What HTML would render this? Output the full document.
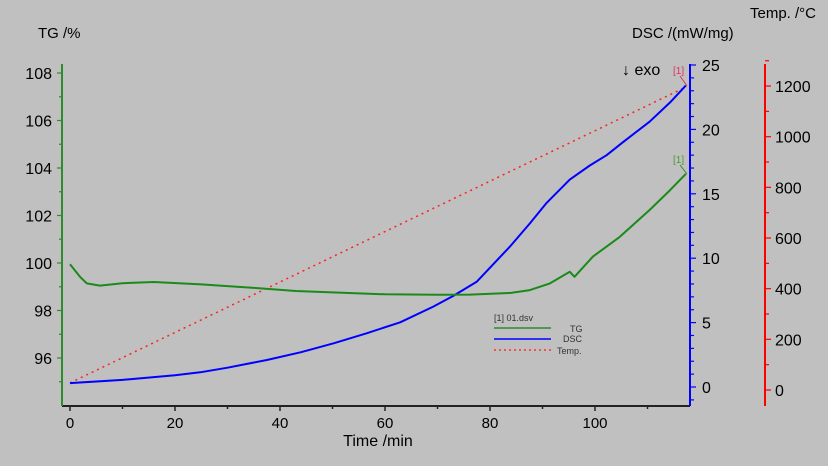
<!DOCTYPE html>
<html><head><meta charset="utf-8"><style>
html,body{margin:0;padding:0;background:#c0c0c0;}
svg{display:block;font-family:"Liberation Sans",Arial,sans-serif;}
</style></head><body>
<svg id="chart" width="828" height="466" viewBox="0 0 828 466" xmlns="http://www.w3.org/2000/svg">
<rect x="0" y="0" width="828" height="466" fill="#c0c0c0"/>
<g id="axes"></g>
<g id="series"></g>
<text x="38" y="38" font-size="15" fill="#000">TG /%</text>
<text x="632" y="38" font-size="15" fill="#000">DSC /(mW/mg)</text>
<text x="750" y="18" font-size="15" fill="#000">Temp. /°C</text>
<text x="378" y="446" font-size="16" fill="#000" text-anchor="middle">Time /min</text>
<text x="622" y="75" font-size="16" fill="#000">↓ exo</text>
<text x="673" y="74" font-size="10" fill="#e0305a">[1]</text>
<line x1="680" y1="76" x2="687" y2="86" stroke="#e0305a" stroke-width="1"/>
<text x="673" y="163" font-size="10" fill="#4a9a3a">[1]</text>
<line x1="680" y1="165" x2="687" y2="174" stroke="#2e8b2e" stroke-width="1"/>
<g>
<text x="494" y="321" font-size="9" fill="#333">[1] 01.dsv</text>
<line x1="494" y1="328" x2="551" y2="328" stroke="#2e8b2e" stroke-width="1.5"/>
<text x="570" y="332" font-size="9" fill="#333">TG</text>
<line x1="494" y1="339" x2="551" y2="339" stroke="#0000ff" stroke-width="1.5"/>
<text x="563" y="342" font-size="9" fill="#333">DSC</text>
<line x1="494" y1="350" x2="551" y2="350" stroke="#ff3030" stroke-width="1.5" stroke-dasharray="2,3"/>
<text x="557" y="354" font-size="9" fill="#333">Temp.</text>
</g>
</svg>
<script>
const timeTicks=[0,20,40,60,80,100];
const tgTicks=[96,98,100,102,104,106,108];
const dscTicks=[0,5,10,15,20,25];
const tempTicks=[0,200,400,600,800,1000,1200];
const tgTime=[0,1.9,3.2,5.7,10,16,25,35,43,60,70,76.2,84,87.6,91.4,95.2,96.1,99.6,104.7,110.4,114.3,117.3];
const tgValues=[99.95,99.42,99.14,99.05,99.15,99.2,99.1,98.95,98.82,98.68,98.66,98.67,98.74,98.86,99.14,99.63,99.42,100.27,101.1,102.23,103.07,103.75];
const dscTime=[0,10,20,24.8,30,37.5,44,50.2,56.5,62.9,69.2,73,77.5,83.8,87.6,90.8,95.2,99,102.2,105.3,110.4,114.3,117.3];
const dscValues=[0.3,0.55,0.92,1.14,1.5,2.1,2.7,3.39,4.17,5.02,6.24,7.07,8.18,10.9,12.7,14.3,16.1,17.2,18.0,19.0,20.6,22.1,23.4];
const tempTime=[0,117.3];
const tempValues=[28,1196];

const NS="http://www.w3.org/2000/svg";
const X=t=>70+t*5.25;
const Ytg=v=>73+(108-v)*23.75;
const Ydsc=d=>387-d*12.88;
const Ytemp=c=>390-c*0.2533;
const axes=document.getElementById('axes');
const series=document.getElementById('series');
function mk(tag,attrs,parent){const e=document.createElementNS(NS,tag);for(const k in attrs)e.setAttribute(k,attrs[k]);parent.appendChild(e);return e;}

let e=mk('line',{x1:62,y1:406,x2:690,y2:406,stroke:'#222','stroke-width':2},axes);


for(let t=0;t<=110;t+=10){
  e=mk('line',{x1:X(t),y1:406,x2:X(t),y2:t%20===0?411:409,stroke:'#222','stroke-width':1.5},axes);
  
  
}
timeTicks.forEach(t=>{
  e=mk('text',{x:X(t),y:428,'font-size':15,'text-anchor':'middle',fill:'#000'},axes);e.textContent=t;
  
  
});
e=mk('line',{x1:62,y1:64,x2:62,y2:406,stroke:'#2e8b2e','stroke-width':2},axes);


for(let v=95;v<=108;v++){
  e=mk('line',{x1:v%2===0?57:59,y1:Ytg(v),x2:62,y2:Ytg(v),stroke:'#2e8b2e','stroke-width':1.2},axes);
  
  
}
tgTicks.forEach(v=>{
  e=mk('text',{x:52,y:Ytg(v)+6,'font-size':16,'text-anchor':'end',fill:'#000'},axes);e.textContent=v;
  
  
});
e=mk('line',{x1:690,y1:64,x2:690,y2:406,stroke:'#0000ff','stroke-width':2},axes);


for(let d=-1;d<=25;d++){
  e=mk('line',{x1:690,y1:Ydsc(d),x2:d%5===0?696:694,y2:Ydsc(d),stroke:'#0000ff','stroke-width':1.2},axes);
  
  
}
dscTicks.forEach(d=>{
  e=mk('text',{x:702,y:Ydsc(d)+6,'font-size':16,fill:'#000'},axes);e.textContent=d;
  
  
});
e=mk('line',{x1:765,y1:64,x2:765,y2:406,stroke:'#ff0000','stroke-width':2},axes);


for(let c=0;c<=1300;c+=100){
  e=mk('line',{x1:765,y1:Ytemp(c),x2:c%200===0?771:769,y2:Ytemp(c),stroke:'#ff0000','stroke-width':1.2},axes);
  
  
}
tempTicks.forEach(c=>{
  e=mk('text',{x:775,y:Ytemp(c)+6,'font-size':16,fill:'#000'},axes);e.textContent=c;
  
  
});
const pts=(ts,vs,fy)=>ts.map((t,i)=>X(t).toFixed(1)+','+fy(vs[i]).toFixed(1)).join(' ');
e=mk('polyline',{points:pts(tempTime,tempValues,Ytemp),fill:'none',stroke:'#ff2020','stroke-width':1.5,'stroke-dasharray':'2,4'},series);


e=mk('polyline',{points:pts(dscTime,dscValues,Ydsc),fill:'none',stroke:'#0000ff','stroke-width':2,'stroke-linejoin':'round'},series);


e=mk('polyline',{points:pts(tgTime,tgValues,Ytg),fill:'none',stroke:'#1a8a1a','stroke-width':2,'stroke-linejoin':'round'},series);


</script>
</body></html>
